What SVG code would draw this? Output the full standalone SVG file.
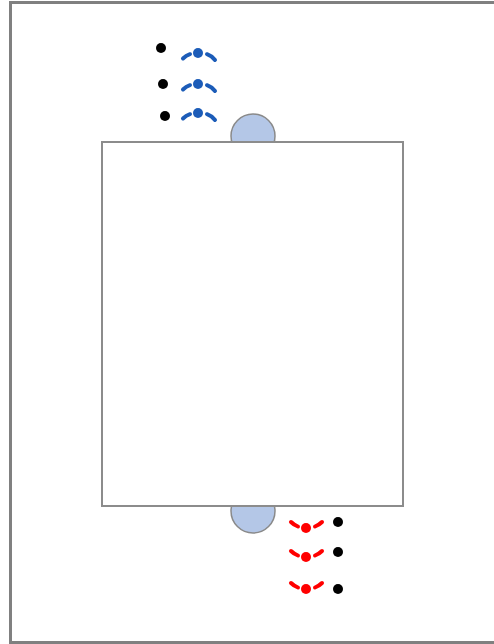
<svg xmlns="http://www.w3.org/2000/svg" xmlns:xlink="http://www.w3.org/1999/xlink" width="494" height="644" viewBox="0 0 494 644">
<style>
.frame{fill:none;stroke:#808080;stroke-width:3}
.table{fill:#ffffff;stroke:#8c8c8c;stroke-width:2}
.half{fill:#b4c7e7;stroke:#8a8a8a;stroke-width:1.5}
.dot{fill:#000000}
.bdash{stroke:#1c5cb8;stroke-width:4;stroke-linecap:round;fill:none}
.rdash{stroke:#ff0000;stroke-width:4;stroke-linecap:round;fill:none}
</style>
<defs>
<g id="bm">
<path class="bdash" d="M-15,5.5 Q-12,2.5 -8,1.2"/>
<path class="bdash" d="M9,1.2 Q14,3 17,7"/>
<circle cx="0" cy="0" r="5" fill="#1c5cb8"/>
</g>
<g id="rm">
<path class="rdash" d="M-15,-6 Q-12,-3 -8,-1.5"/>
<path class="rdash" d="M9,-1.5 Q13,-3 16,-6"/>
<circle cx="0" cy="0" r="5" fill="#ff0000"/>
</g>
</defs>
<rect width="494" height="644" fill="#ffffff"/>
<rect id="frame" class="frame" x="10.5" y="2.5" width="500" height="640"/>
<g id="end-top"><circle class="half" cx="253" cy="136" r="22"/></g>
<g id="end-bottom"><circle class="half" cx="253" cy="511" r="22"/></g>
<g id="table"><rect class="table" x="102" y="142" width="301" height="364"/></g>
<g id="blue-team">
<circle class="dot" cx="161" cy="48" r="5"/>
<circle class="dot" cx="163" cy="84" r="5"/>
<circle class="dot" cx="165" cy="116" r="5"/>
<use xlink:href="#bm" x="198" y="53"/>
<use xlink:href="#bm" x="198" y="84"/>
<use xlink:href="#bm" x="198" y="113"/>
</g>
<g id="red-team">
<use xlink:href="#rm" x="306" y="528"/>
<use xlink:href="#rm" x="306" y="557"/>
<use xlink:href="#rm" x="306" y="589"/>
<circle class="dot" cx="338" cy="522" r="5"/>
<circle class="dot" cx="338" cy="552" r="5"/>
<circle class="dot" cx="338" cy="589" r="5"/>
</g>
<g id="connectors"/>
</svg>
